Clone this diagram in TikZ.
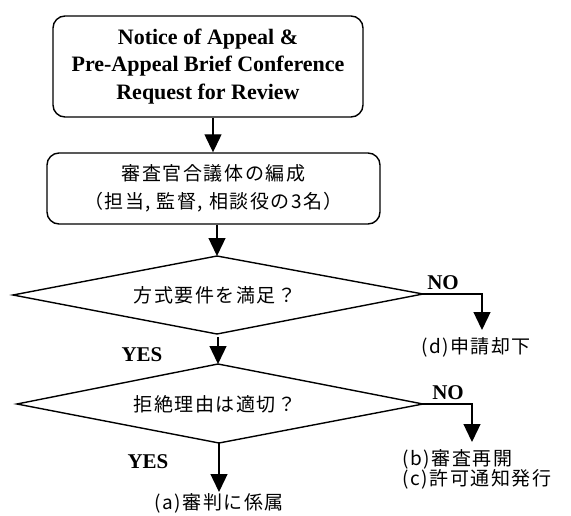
\documentclass[tikz,border=0pt]{standalone}
\usepackage{fontspec}
\setmainfont{Liberation Serif}
\newfontfamily\jp{Noto Sans CJK JP}[LetterSpace=8]
\usetikzlibrary{arrows.meta}
\begin{document}
\begin{tikzpicture}[x=1pt,y=-1pt,
  line width=1.4pt,
  box/.style={draw, rounded corners=12pt, align=center, inner sep=0pt},
  arr/.style={-{Triangle[width=17pt,length=18pt]}, line width=1.3pt},
  lat/.style={font=\bfseries\fontsize{22}{27.5}\selectfont},
  jtxt/.style={font=\jp\fontsize{19}{28}\selectfont},
  lbl/.style={font=\bfseries\fontsize{21}{24}\selectfont, inner sep=0pt}
]
\useasboundingbox (0,0) rectangle (571,515);
\node[box, lat, minimum width=310pt, minimum height=101pt] (b1) at (208,66.5) {Notice of Appeal \&\\Pre-Appeal Brief Conference\\Request for Review};
\node[box, jtxt, minimum width=333pt, minimum height=71pt] (b2) at (213.5,188.5) {審査官合議体の編成\\（担当, 監督, 相談役の3名）};

% decision 1
\coordinate (d1w) at (13,295);
\coordinate (d1n) at (217,256);
\coordinate (d1e) at (423,294);
\coordinate (d1s) at (217,334);
\draw (d1w) -- (d1n) -- (d1e) -- (d1s) -- cycle;
\node[jtxt, inner sep=0pt] (d1) at (215,295) {方式要件を満足？};

% decision 2
\coordinate (d2w) at (17,404);
\coordinate (d2n) at (218,364);
\coordinate (d2e) at (423,404);
\coordinate (d2s) at (219,443);
\draw (d2w) -- (d2n) -- (d2e) -- (d2s) -- cycle;
\node[jtxt, inner sep=0pt] (d2) at (215,404) {拒絶理由は適切？};

\draw[arr] ([xshift=5pt]b1.south) -- ([xshift=5pt]b1.south |- b2.north);
\draw[arr] (b2.south -| d1n) -- (d1n);
\draw[arr] ([yshift=-3pt]d2n |- d1s) -- (d2n);
\coordinate (ta) at (219,492);
\draw[arr] (d2s) -- (d2s |- ta);
\coordinate (tn1) at (482,330);
\draw[arr] (d1e) -| (tn1);
\coordinate (tn2) at (472,442);
\draw[arr] (d2e) -| (tn2);

\node[lbl] (no1) at (443,283) {NO};
\node[lbl] (yes1) at (142,355) {YES};
\node[lbl] (no2) at (448,393) {NO};
\node[lbl] (yes2) at (148,462) {YES};
\node[jtxt, inner sep=0pt] (rd) at (476,347) {(d)申請却下};
\node[jtxt, inner sep=0pt, anchor=west] (rb) at (402,459) {(b)審査再開};
\node[jtxt, inner sep=0pt, anchor=west] (rc) at (402,479) {(c)許可通知発行};
\node[jtxt, inner sep=0pt] (ra) at (219,503) {(a)審判に係属};
\end{tikzpicture}
\end{document}
